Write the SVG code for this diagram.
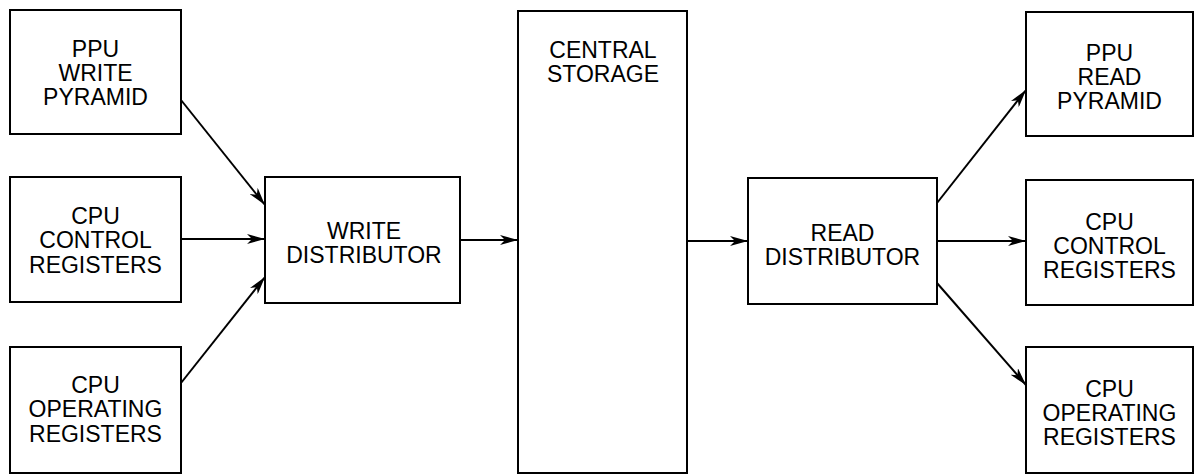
<svg xmlns="http://www.w3.org/2000/svg" width="1196" height="475" viewBox="0 0 1196 475">
<style>
  .box { fill: #fff; stroke: #000; stroke-width: 2; }
  .lbl { font-family: "Liberation Sans", Arial, sans-serif; font-size: 23px; fill: #000; text-anchor: middle; }
  .conn { stroke: #000; stroke-width: 2; fill: none; marker-end: url(#arr); }
</style>
<defs>
  <marker id="arr" viewBox="0 0 18 10" refX="18" refY="5" markerWidth="18" markerHeight="10" markerUnits="userSpaceOnUse" orient="auto">
    <path d="M0,0 L18,5 L0,10 L5,5 Z" fill="#000"/>
  </marker>
</defs>
<rect width="1196" height="475" fill="#fff"/>
<g id="connectors">
  <line class="conn" x1="181" y1="100" x2="265" y2="205"/>
  <line class="conn" x1="181" y1="239" x2="265" y2="239"/>
  <line class="conn" x1="181" y1="383" x2="265" y2="277"/>
  <line class="conn" x1="460" y1="240" x2="518" y2="240"/>
  <line class="conn" x1="687" y1="241" x2="748" y2="241"/>
  <line class="conn" x1="937" y1="203" x2="1026" y2="90"/>
  <line class="conn" x1="937" y1="241" x2="1026" y2="241"/>
  <line class="conn" x1="937" y1="283" x2="1026" y2="385"/>
</g>
<g id="ppu-write-pyramid">
  <rect class="box" x="10" y="10" width="171" height="124"/>
  <text class="lbl" x="95.5" y="57">PPU</text>
  <text class="lbl" x="95.5" y="81">WRITE</text>
  <text class="lbl" x="95.5" y="105">PYRAMID</text>
</g>
<g id="cpu-control-registers-in">
  <rect class="box" x="10" y="177" width="171" height="125"/>
  <text class="lbl" x="95.5" y="224">CPU</text>
  <text class="lbl" x="95.5" y="248">CONTROL</text>
  <text class="lbl" x="95.5" y="273">REGISTERS</text>
</g>
<g id="cpu-operating-registers-in">
  <rect class="box" x="10" y="347" width="171" height="126"/>
  <text class="lbl" x="95.5" y="393">CPU</text>
  <text class="lbl" x="95.5" y="417">OPERATING</text>
  <text class="lbl" x="95.5" y="442">REGISTERS</text>
</g>
<g id="write-distributor">
  <rect class="box" x="265" y="177" width="195" height="126"/>
  <text class="lbl" x="364" y="239">WRITE</text>
  <text class="lbl" x="364" y="263">DISTRIBUTOR</text>
</g>
<g id="central-storage">
  <rect class="box" x="518" y="11" width="169" height="462"/>
  <text class="lbl" x="603" y="58">CENTRAL</text>
  <text class="lbl" x="603" y="82">STORAGE</text>
</g>
<g id="read-distributor">
  <rect class="box" x="748" y="178" width="189" height="126"/>
  <text class="lbl" x="842.5" y="241">READ</text>
  <text class="lbl" x="842.5" y="265">DISTRIBUTOR</text>
</g>
<g id="ppu-read-pyramid">
  <rect class="box" x="1026" y="12" width="167" height="124"/>
  <text class="lbl" x="1109.5" y="61">PPU</text>
  <text class="lbl" x="1109.5" y="85">READ</text>
  <text class="lbl" x="1109.5" y="109">PYRAMID</text>
</g>
<g id="cpu-control-registers-out">
  <rect class="box" x="1026" y="180" width="167" height="125"/>
  <text class="lbl" x="1109.5" y="230">CPU</text>
  <text class="lbl" x="1109.5" y="254">CONTROL</text>
  <text class="lbl" x="1109.5" y="278">REGISTERS</text>
</g>
<g id="cpu-operating-registers-out">
  <rect class="box" x="1026" y="347" width="167" height="126"/>
  <text class="lbl" x="1109.5" y="397">CPU</text>
  <text class="lbl" x="1109.5" y="421">OPERATING</text>
  <text class="lbl" x="1109.5" y="445">REGISTERS</text>
</g>
</svg>
